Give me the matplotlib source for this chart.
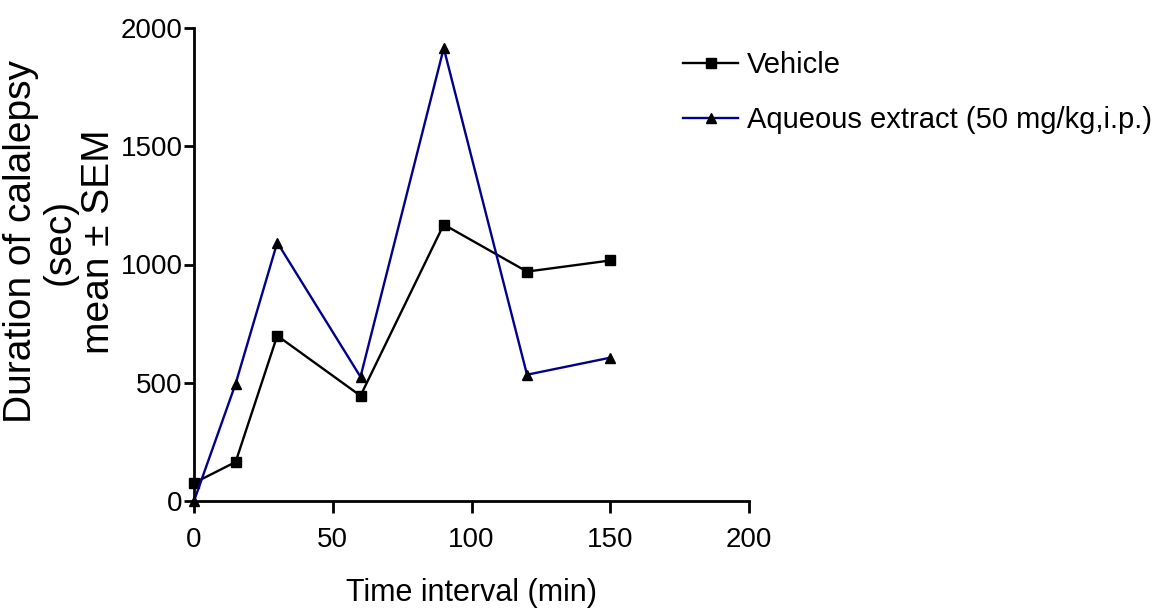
import matplotlib
matplotlib.use("Agg")
import matplotlib.pyplot as plt

plt.rcParams['font.family'] = ['Liberation Sans', 'DejaVu Sans']

time_min = [0, 15, 30, 60, 90, 120, 150]
vehicle = [76, 165, 699, 445, 1169, 970, 1017]
aqueous = [0, 496, 1093, 525, 1915, 534, 606]
series_labels = ["Vehicle", "Aqueous extract (50 mg/kg,i.p.)"]
x_ticks = [0, 50, 100, 150, 200]
y_ticks = [0, 500, 1000, 1500, 2000]

fig = plt.figure(figsize=(11.69, 6.16), dpi=100)
ax = fig.add_axes([194/1169, 1-501/616, (749-194)/1169, (501-28)/616])

l1, = ax.plot(time_min, vehicle, color='black', lw=1.7, marker='s', ms=7,
              mfc='black', mec='black', label=series_labels[0], clip_on=False,
              zorder=3)
l2, = ax.plot(time_min, aqueous, color='#00008b', lw=1.7, marker='^', ms=7,
              mfc='black', mec='black', label=series_labels[1], clip_on=False,
              zorder=3)

ax.set_xlim(0, 200)
ax.set_ylim(0, 2000)
ax.set_xticks(x_ticks)
ax.set_yticks(y_ticks)
for s in ['top', 'right']:
    ax.spines[s].set_visible(False)
for s in ['left', 'bottom']:
    ax.spines[s].set_linewidth(2)
ax.tick_params(direction='out', width=2, labelsize=20)
ax.tick_params(axis='x', length=8.6, pad=10)
ax.tick_params(axis='y', length=7.2, pad=1)

ax.set_xlabel("Time interval (min)", fontsize=22, labelpad=18)
fig.text(60/1169, 1-242/616, "Duration of calalepsy\n(sec)\nmean ± SEM",
         rotation=90, ha='center', va='center', fontsize=28,
         multialignment='center', linespacing=1.1)

leg = fig.legend(handles=[l1, l2], loc='upper left',
                 bbox_to_anchor=(683/1169, 1-51/616), frameon=False,
                 fontsize=21, handlelength=1.9, handletextpad=0.3,
                 labelspacing=0.93, borderaxespad=0, borderpad=0)

fig.savefig("out.png", dpi=100)
